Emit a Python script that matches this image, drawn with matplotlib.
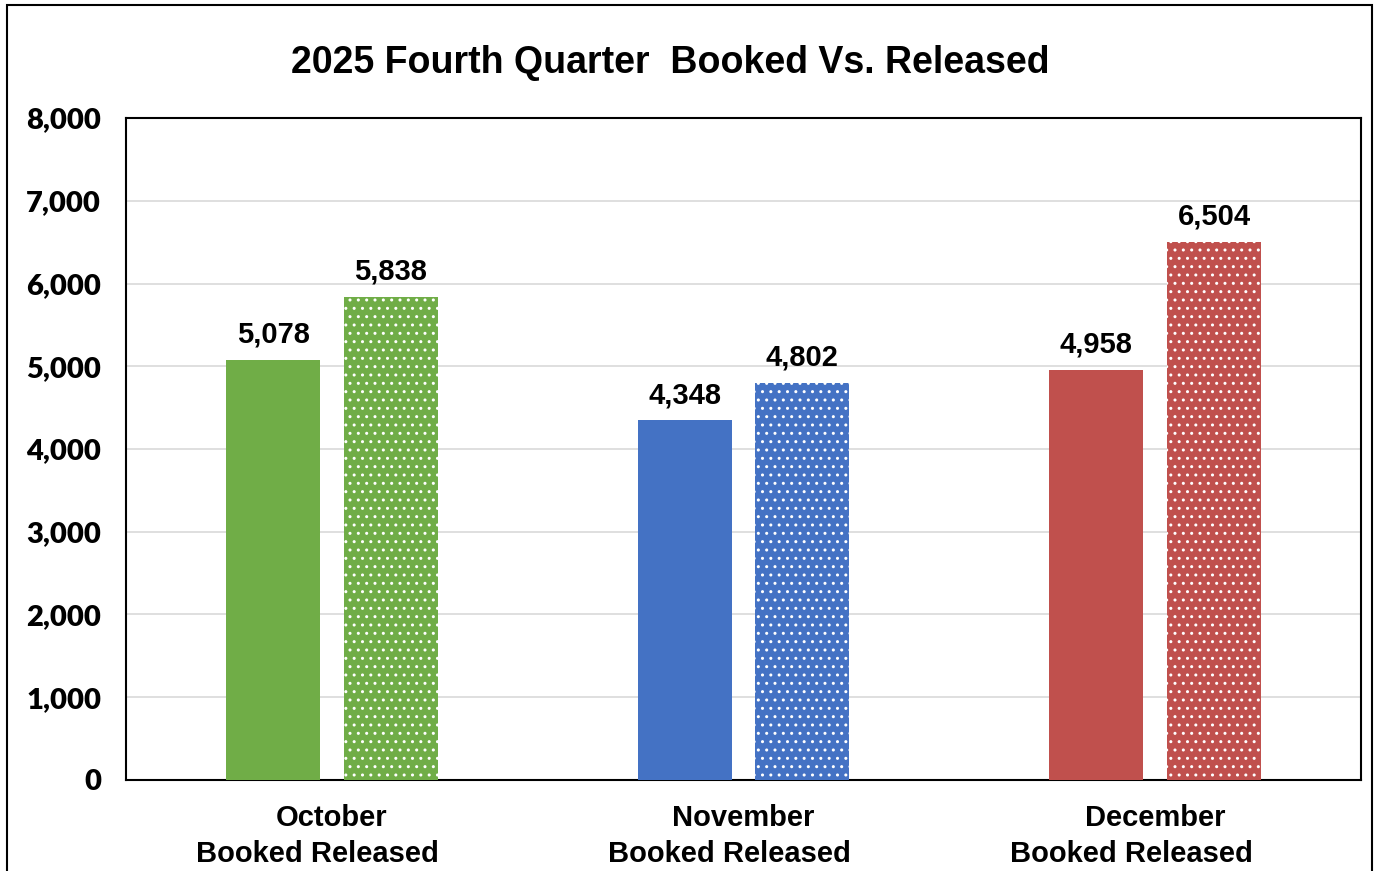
import numpy as np
import matplotlib.pyplot as plt
from matplotlib.patches import Rectangle
from matplotlib.transforms import blended_transform_factory

months = ["October", "November", "December"]
booked = [5078, 4348, 4958]
released = [5838, 4802, 6504]
colors = ["#70AD47", "#4472C4", "#C0504D"]
yticks = [0, 1000, 2000, 3000, 4000, 5000, 6000, 7000, 8000]

plt.rcParams['hatch.color'] = 'white'
plt.rcParams['hatch.linewidth'] = 1.0

fig = plt.figure(figsize=(13.76, 8.71), dpi=100)
ax = fig.add_axes([0.0916, 0.1045, 0.8975, 0.76])

# outer frame
fig.patches.append(Rectangle((7 / 1376, -0.05), 1365 / 1376, 1.05 - 5 / 871,
                             transform=fig.transFigure, fill=False,
                             edgecolor="black", linewidth=1.5))

x = np.arange(len(months))
w = 0.228
off = 0.143
for i in range(len(months)):
    ax.bar(x[i] - off, booked[i], width=w, color=colors[i], zorder=3)
    ax.bar(x[i] + off, released[i], width=w, color=colors[i],
           hatch="..", edgecolor="white", linewidth=0, zorder=3)
    for xx, v in [(x[i] - off, booked[i]), (x[i] + off, released[i])]:
        ax.annotate(f"{v:,}", (xx, v), xytext=(0, 8), textcoords="offset points",
                    ha="center", va="bottom", fontsize=21, fontweight="bold",
                    family="Liberation Sans")

ax.set_xlim(-0.5, 2.5)
ax.set_ylim(0, 8000)
ax.set_yticks(yticks)
ax.set_yticklabels([f"{t:,}" for t in yticks], fontsize=21, fontweight="heavy",
                   family="Lato")
ax.set_xticks(x)
ax.set_xticklabels(months, fontsize=21, fontweight="bold", family="Liberation Sans")
ax.tick_params(axis="both", length=0)
ax.tick_params(axis="y", pad=18)
ax.tick_params(axis="x", pad=17)
ax.grid(axis="y", color="#D9D9D9", linewidth=1.2, zorder=0)
for s in ax.spines.values():
    s.set_linewidth(1.5)

# second line of the category labels sits a little left of the month name
shifts = [-0.036, -0.034, -0.058]
trans = blended_transform_factory(ax.transData, ax.transAxes)
for i in range(len(months)):
    ax.text(x[i] + shifts[i], -0.112, "Booked Released", transform=trans,
            ha="center", va="center", fontsize=21, fontweight="bold",
            family="Liberation Sans")

fig.text(0.487, 0.928, "2025 Fourth Quarter  Booked Vs. Released", ha="center",
         va="center", fontsize=27, fontweight="bold", family="Liberation Sans")

fig.savefig("out.png", dpi=100)
